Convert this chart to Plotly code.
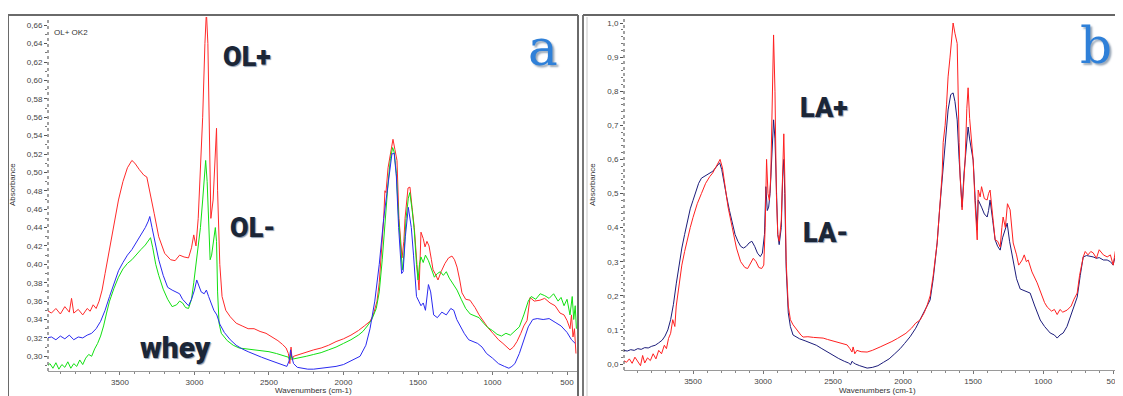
import plotly.graph_objects as go

OFF = 8                      # page body margin in the browser
W, H = 1123 - OFF, 396 - OFF

# ---------------- data (panel a) ----------------
a_red_wn = [3990, 3960, 3930, 3900, 3870, 3840, 3825, 3810, 3780, 3750, 3720, 3700, 3680, 3660, 3640, 3620, 3600,
            3570, 3540, 3510, 3480, 3450, 3420, 3400, 3370, 3340, 3320, 3300, 3270, 3240, 3200, 3160, 3130, 3100,
            3070, 3040, 3020, 3005, 2990, 2975, 2960, 2945, 2930, 2920, 2910, 2900, 2890, 2875, 2860, 2852, 2845,
            2830, 2815, 2790, 2760, 2720, 2680, 2640, 2600, 2560, 2520, 2480, 2440, 2410, 2385, 2370, 2360, 2352,
            2345, 2335, 2300, 2250, 2200, 2150, 2100, 2050, 2000, 1950, 1900, 1860, 1822, 1800, 1775, 1760, 1742,
            1730, 1722, 1715, 1701, 1685, 1668, 1655, 1641, 1628, 1615, 1607, 1595, 1587, 1567, 1554, 1540, 1525,
            1507, 1493, 1485, 1480, 1465, 1453, 1440, 1426, 1410, 1399, 1385, 1366, 1345, 1319, 1295, 1272, 1255,
            1238, 1220, 1205, 1180, 1151, 1130, 1117, 1090, 1064, 1030, 997, 960, 930, 900, 883, 860, 836, 810, 790,
            768, 755, 748, 720, 681, 650, 614, 580, 547, 520, 500, 480, 470, 460, 450, 440]
a_red_abs = [0.350, 0.347, 0.352, 0.346, 0.354, 0.348, 0.363, 0.347, 0.351, 0.345, 0.352, 0.349, 0.356, 0.352, 0.360,
             0.372, 0.390, 0.418, 0.445, 0.470, 0.490, 0.505, 0.513, 0.510, 0.503, 0.497, 0.495, 0.480, 0.455, 0.430,
             0.412, 0.405, 0.404, 0.410, 0.408, 0.407, 0.418, 0.432, 0.420, 0.450, 0.500, 0.560, 0.640, 0.675, 0.640,
             0.520, 0.450, 0.470, 0.530, 0.548, 0.480, 0.400, 0.365, 0.350, 0.343, 0.336, 0.333, 0.330, 0.330, 0.327,
             0.325, 0.321, 0.317, 0.313, 0.309, 0.303, 0.292, 0.310, 0.296, 0.300, 0.302, 0.305, 0.307, 0.309, 0.312,
             0.316, 0.319, 0.323, 0.328, 0.333, 0.338, 0.345, 0.360, 0.380, 0.420, 0.450, 0.480, 0.478, 0.505, 0.520,
             0.536, 0.525, 0.513, 0.450, 0.415, 0.407, 0.425, 0.450, 0.483, 0.484, 0.462, 0.440, 0.400, 0.372, 0.410,
             0.435, 0.428, 0.419, 0.425, 0.420, 0.405, 0.394, 0.390, 0.383, 0.392, 0.401, 0.407, 0.409, 0.405, 0.397,
             0.383, 0.369, 0.362, 0.361, 0.356, 0.353, 0.345, 0.339, 0.331, 0.325, 0.318, 0.314, 0.309, 0.307, 0.310,
             0.316, 0.325, 0.333, 0.339, 0.355, 0.364, 0.360, 0.361, 0.363, 0.358, 0.355, 0.347, 0.345, 0.339, 0.330,
             0.345, 0.321, 0.330, 0.303]

a_blue_wn = [3990, 3960, 3930, 3900, 3870, 3840, 3810, 3780, 3750, 3720, 3690, 3660, 3630, 3600, 3570, 3540, 3510,
             3480, 3450, 3420, 3390, 3360, 3330, 3310, 3300, 3285, 3260, 3240, 3210, 3180, 3150, 3120, 3100, 3080,
             3060, 3040, 3020, 3000, 2985, 2970, 2955, 2935, 2920, 2905, 2890, 2870, 2850, 2830, 2800, 2760, 2720,
             2680, 2640, 2600, 2550, 2500, 2450, 2400, 2380, 2365, 2355, 2345, 2335, 2310, 2280, 2240, 2200, 2150,
             2100, 2050, 2000, 1960, 1930, 1889, 1850, 1822, 1790, 1760, 1730, 1700, 1675, 1660, 1645, 1630, 1610,
             1600, 1585, 1565, 1545, 1530, 1510, 1495, 1480, 1465, 1450, 1430, 1415, 1395, 1370, 1340, 1310, 1280,
             1260, 1240, 1215, 1190, 1160, 1130, 1100, 1070, 1040, 1000, 960, 920, 890, 870, 850, 820, 790, 760,
             730, 700, 660, 620, 580, 540, 500, 470, 445]
a_blue_abs = [0.320, 0.321, 0.318, 0.322, 0.319, 0.323, 0.318, 0.321, 0.320, 0.323, 0.325, 0.330, 0.338, 0.350,
              0.365, 0.380, 0.393, 0.402, 0.410, 0.416, 0.424, 0.432, 0.440, 0.447, 0.452, 0.440, 0.420, 0.405,
              0.388, 0.375, 0.372, 0.370, 0.368, 0.362, 0.358, 0.355, 0.362, 0.372, 0.383, 0.377, 0.370, 0.368,
              0.372, 0.365, 0.358, 0.350, 0.345, 0.335, 0.326, 0.318, 0.312, 0.308, 0.305, 0.302, 0.299, 0.296,
              0.293, 0.290, 0.289, 0.295, 0.307, 0.298, 0.292, 0.288, 0.287, 0.286, 0.286, 0.287, 0.288, 0.289,
              0.291, 0.294, 0.297, 0.300, 0.312, 0.330, 0.360, 0.400, 0.450, 0.490, 0.520, 0.521, 0.495, 0.440,
              0.390, 0.392, 0.430, 0.462, 0.440, 0.410, 0.365, 0.360, 0.355, 0.358, 0.350, 0.378, 0.370, 0.345,
              0.342, 0.348, 0.345, 0.352, 0.350, 0.340, 0.332, 0.325, 0.318, 0.316, 0.314, 0.310, 0.303, 0.298,
              0.292, 0.289, 0.287, 0.289, 0.292, 0.303, 0.318, 0.332, 0.340, 0.341, 0.340, 0.341, 0.337, 0.333,
              0.326, 0.318, 0.314]

a_green_wn = [3990, 3970, 3950, 3930, 3910, 3890, 3870, 3850, 3830, 3810, 3790, 3770, 3750, 3730, 3710, 3690, 3670,
              3650, 3630, 3610, 3590, 3570, 3540, 3510, 3480, 3450, 3420, 3390, 3360, 3330, 3310, 3295, 3280, 3260,
              3240, 3210, 3180, 3150, 3120, 3100, 3080, 3060, 3040, 3020, 3005, 2990, 2975, 2960, 2945, 2935, 2925,
              2915, 2905, 2895, 2885, 2870, 2860, 2852, 2845, 2835, 2820, 2780, 2740, 2700, 2650, 2600, 2550, 2500,
              2450, 2400, 2370, 2360, 2350, 2340, 2300, 2250, 2200, 2150, 2100, 2050, 2000, 1950, 1900, 1870, 1840,
              1810, 1780, 1760, 1740, 1720, 1700, 1685, 1670, 1660, 1645, 1630, 1615, 1605, 1595, 1580, 1565, 1555,
              1540, 1525, 1510, 1500, 1490, 1480, 1465, 1450, 1430, 1410, 1390, 1370, 1350, 1330, 1310, 1290, 1260,
              1238, 1210, 1180, 1150, 1120, 1090, 1060, 1030, 1000, 970, 940, 910, 880, 850, 820, 790, 760, 740, 710,
              680, 650, 620, 590, 560, 540, 520, 500, 480, 465, 455, 445, 437]
a_green_abs = [0.289, 0.292, 0.287, 0.293, 0.286, 0.291, 0.288, 0.294, 0.287, 0.292, 0.289, 0.296, 0.291, 0.298,
               0.302, 0.300, 0.308, 0.314, 0.322, 0.333, 0.347, 0.360, 0.374, 0.386, 0.395, 0.401, 0.405, 0.411,
               0.416, 0.421, 0.426, 0.429, 0.418, 0.400, 0.388, 0.373, 0.362, 0.354, 0.356, 0.360, 0.358, 0.353,
               0.352, 0.362, 0.380, 0.400, 0.425, 0.440, 0.470, 0.490, 0.513, 0.490, 0.440, 0.405, 0.410, 0.430,
               0.440, 0.425, 0.370, 0.336, 0.325, 0.317, 0.312, 0.309, 0.308, 0.307, 0.306, 0.305, 0.303, 0.301,
               0.299, 0.296, 0.301, 0.297, 0.298, 0.300, 0.302, 0.304, 0.307, 0.310, 0.314, 0.318, 0.323, 0.327,
               0.333, 0.340, 0.352, 0.370, 0.405, 0.450, 0.490, 0.515, 0.527, 0.522, 0.499, 0.450, 0.410, 0.394,
               0.410, 0.450, 0.472, 0.478, 0.460, 0.437, 0.400, 0.383, 0.400, 0.408, 0.402, 0.410, 0.404, 0.395,
               0.386, 0.390, 0.392, 0.388, 0.392, 0.385, 0.378, 0.372, 0.362, 0.352, 0.346, 0.344, 0.342, 0.336,
               0.331, 0.328, 0.324, 0.322, 0.325, 0.323, 0.327, 0.332, 0.345, 0.360, 0.365, 0.362, 0.368, 0.366,
               0.363, 0.368, 0.360, 0.364, 0.355, 0.362, 0.345, 0.365, 0.340, 0.355, 0.330]

# ---------------- data (panel b) ----------------
b_red_wn = [3995, 3975, 3955, 3935, 3915, 3895, 3875, 3860, 3845, 3825, 3805, 3785, 3765, 3745, 3725, 3705, 3690,
            3675, 3660, 3645, 3630, 3620, 3600, 3580, 3560, 3540, 3520, 3500, 3470, 3440, 3410, 3380, 3360, 3340,
            3320, 3307, 3290, 3270, 3250, 3220, 3190, 3160, 3130, 3110, 3090, 3070, 3050, 3030, 3010, 2995, 2985,
            2975, 2965, 2955, 2945, 2935, 2925, 2915, 2905, 2895, 2885, 2870, 2860, 2852, 2845, 2835, 2820, 2805,
            2786, 2760, 2730, 2714, 2680, 2640, 2600, 2571, 2540, 2500, 2460, 2420, 2400, 2380, 2365, 2357, 2345,
            2330, 2300, 2257, 2220, 2164, 2120, 2080, 2040, 2021, 1980, 1940, 1910, 1879, 1850, 1830, 1807, 1785,
            1765, 1757, 1740, 1721, 1714, 1700, 1690, 1679, 1665, 1650, 1643, 1630, 1614, 1600, 1593, 1579, 1565,
            1557, 1545, 1536, 1525, 1510, 1500, 1485, 1471, 1464, 1450, 1440, 1420, 1400, 1390, 1379, 1360, 1343,
            1325, 1307, 1295, 1286, 1270, 1255, 1236, 1214, 1190, 1175, 1164, 1150, 1135, 1120, 1107, 1080, 1043,
            1010, 990, 971, 940, 920, 900, 880, 860, 829, 800, 780, 757, 740, 714, 700, 680, 660, 643, 620, 600,
            570, 543, 520, 500, 485, 471, 455, 445, 436]
b_red_abs = [0.010, 0.005, 0.015, 0.002, 0.020, 0.008, -0.005, 0.025, 0.003, 0.018, 0.010, 0.030, 0.015, 0.040,
             0.030, 0.055, 0.045, 0.075, 0.090, 0.130, 0.110, 0.170, 0.230, 0.290, 0.330, 0.370, 0.400, 0.430,
             0.470, 0.500, 0.530, 0.550, 0.560, 0.575, 0.590, 0.600, 0.575, 0.520, 0.460, 0.400, 0.340, 0.300,
             0.283, 0.280, 0.295, 0.310, 0.300, 0.283, 0.280, 0.290, 0.400, 0.600, 0.500, 0.480, 0.550, 0.750,
             0.965, 0.800, 0.500, 0.380, 0.360, 0.420, 0.620, 0.675, 0.550, 0.300, 0.170, 0.130, 0.115, 0.100,
             0.085, 0.079, 0.080, 0.078, 0.077, 0.076, 0.072, 0.068, 0.063, 0.058, 0.056, 0.045, 0.035, 0.050,
             0.030, 0.040, 0.036, 0.035, 0.040, 0.050, 0.058, 0.066, 0.075, 0.079, 0.090, 0.105, 0.120, 0.129,
             0.150, 0.170, 0.200, 0.260, 0.330, 0.355, 0.450, 0.560, 0.650, 0.700, 0.760, 0.842, 0.900, 0.990,
             1.000, 0.970, 0.940, 0.650, 0.548, 0.452, 0.560, 0.600, 0.750, 0.810, 0.720, 0.650, 0.598, 0.460,
             0.364, 0.510, 0.490, 0.520, 0.485, 0.481, 0.500, 0.510, 0.430, 0.364, 0.360, 0.343, 0.400, 0.431,
             0.400, 0.470, 0.452, 0.355, 0.320, 0.290, 0.296, 0.305, 0.320, 0.300, 0.305, 0.270, 0.238, 0.200,
             0.180, 0.167, 0.155, 0.160, 0.145, 0.160, 0.152, 0.158, 0.170, 0.190, 0.208, 0.260, 0.314, 0.330,
             0.320, 0.330, 0.326, 0.310, 0.335, 0.320, 0.314, 0.320, 0.290, 0.330, 0.296, 0.250, 0.300, 0.238]

b_navy_wn = [3995, 3970, 3945, 3920, 3895, 3870, 3845, 3820, 3795, 3770, 3745, 3720, 3700, 3680, 3660, 3640, 3620,
             3600, 3580, 3560, 3540, 3520, 3500, 3480, 3460, 3440, 3420, 3400, 3380, 3360, 3340, 3320, 3310, 3295,
             3280, 3260, 3240, 3220, 3200, 3180, 3160, 3140, 3120, 3100, 3080, 3060, 3040, 3020, 3005, 2990, 2980,
             2970, 2960, 2950, 2940, 2925, 2915, 2905, 2895, 2885, 2870, 2860, 2852, 2845, 2835, 2820, 2805, 2786,
             2740, 2700, 2660, 2620, 2580, 2540, 2500, 2460, 2420, 2390, 2375, 2365, 2355, 2340, 2310, 2280, 2257,
             2220, 2180, 2140, 2100, 2060, 2021, 1990, 1950, 1910, 1879, 1850, 1830, 1807, 1785, 1757, 1740, 1721,
             1714, 1700, 1679, 1660, 1643, 1630, 1614, 1600, 1593, 1579, 1565, 1557, 1545, 1536, 1525, 1510, 1500,
             1485, 1471, 1464, 1450, 1440, 1420, 1400, 1390, 1379, 1360, 1343, 1325, 1307, 1290, 1270, 1257, 1240,
             1214, 1190, 1164, 1130, 1093, 1060, 1021, 990, 950, 920, 900, 880, 857, 830, 807, 780, 757, 735, 714,
             690, 660, 643, 620, 600, 570, 543, 520, 500, 490, 471, 455, 440]
b_navy_abs = [0.040, 0.038, 0.042, 0.040, 0.045, 0.043, 0.048, 0.047, 0.052, 0.055, 0.062, 0.070, 0.082, 0.100,
              0.130, 0.175, 0.235, 0.290, 0.340, 0.380, 0.420, 0.455, 0.480, 0.505, 0.530, 0.545, 0.550, 0.555,
              0.560, 0.565, 0.575, 0.585, 0.590, 0.570, 0.530, 0.490, 0.450, 0.410, 0.380, 0.360, 0.345, 0.340,
              0.345, 0.355, 0.360, 0.345, 0.325, 0.315, 0.325, 0.380, 0.520, 0.450, 0.460, 0.500, 0.600, 0.716,
              0.660, 0.500, 0.380, 0.350, 0.400, 0.550, 0.600, 0.500, 0.280, 0.150, 0.110, 0.085, 0.074, 0.068,
              0.062, 0.055, 0.045, 0.035, 0.025, 0.016, 0.008, 0.003, -0.002, 0.008, 0.004, 0.000, -0.005, -0.010,
              -0.012, -0.010, -0.005, 0.005, 0.015, 0.030, 0.045, 0.060, 0.080, 0.105, 0.130, 0.150, 0.170, 0.188,
              0.250, 0.355, 0.450, 0.540, 0.578, 0.650, 0.745, 0.790, 0.795, 0.770, 0.716, 0.600, 0.548, 0.460,
              0.560, 0.598, 0.660, 0.695, 0.660, 0.620, 0.598, 0.480, 0.393, 0.481, 0.470, 0.460, 0.440, 0.431,
              0.450, 0.481, 0.420, 0.364, 0.345, 0.334, 0.370, 0.400, 0.413, 0.360, 0.296, 0.250, 0.220, 0.215,
              0.208, 0.170, 0.129, 0.110, 0.091, 0.085, 0.076, 0.085, 0.091, 0.110, 0.138, 0.170, 0.196, 0.260,
              0.314, 0.318, 0.316, 0.314, 0.310, 0.312, 0.305, 0.305, 0.300, 0.290, 0.310, 0.284, 0.270, 0.275]

x_ticks = [3500, 3000, 2500, 2000, 1500, 1000, 500]
a_y_ticks = [0.30, 0.32, 0.34, 0.36, 0.38, 0.40, 0.42, 0.44, 0.46, 0.48, 0.50, 0.52, 0.54, 0.56, 0.58,
             0.60, 0.62, 0.64, 0.66]
b_y_ticks = [0.0, 0.1, 0.2, 0.3, 0.4, 0.5, 0.6, 0.7, 0.8, 0.9, 1.0]


def fx(px):
    """screen pixel x -> paper fraction (figure is drawn offset by the page margin)"""
    return (px - OFF) / W


def fy(py):
    return 1 - (py - OFF) / H


fig = go.Figure()
lw = 1.0
fig.add_trace(go.Scatter(x=a_red_wn, y=a_red_abs, mode="lines", line=dict(color="#ff2a2a", width=lw),
                         xaxis="x", yaxis="y", showlegend=False))
fig.add_trace(go.Scatter(x=a_green_wn, y=a_green_abs, mode="lines", line=dict(color="#12e012", width=lw),
                         xaxis="x", yaxis="y", showlegend=False))
fig.add_trace(go.Scatter(x=a_blue_wn, y=a_blue_abs, mode="lines", line=dict(color="#2a2af0", width=lw),
                         xaxis="x", yaxis="y", showlegend=False))
fig.add_trace(go.Scatter(x=b_navy_wn, y=b_navy_abs, mode="lines", line=dict(color="#1c1c7a", width=lw),
                         xaxis="x2", yaxis="y2", showlegend=False))
fig.add_trace(go.Scatter(x=b_red_wn, y=b_red_abs, mode="lines", line=dict(color="#ff2020", width=lw),
                         xaxis="x2", yaxis="y2", showlegend=False))

tickfont = dict(family="Liberation Sans, Arial, sans-serif", size=8, color="#444")


def fmt(v, nd):
    return f"{v:.{nd}f}".replace(".", ",")


xcommon = dict(autorange=False, tickmode="array", tickvals=x_ticks, ticktext=[str(t) for t in x_ticks],
               ticks="outside", ticklen=3, tickcolor="#777", showline=True, linecolor="#9a9a9a", linewidth=1,
               showgrid=False, zeroline=False, tickfont=tickfont,
               minor=dict(dtick=100, ticks="outside", ticklen=2, tickcolor="#888", showgrid=False))

fig.update_layout(
    width=W, height=H, margin=dict(l=0, r=0, t=0, b=0),
    paper_bgcolor="white", plot_bgcolor="white",
    xaxis=dict(domain=[fx(48), fx(577)], range=[3983, 433], anchor="y", **xcommon),
    yaxis=dict(domain=[fy(371), fy(17)], range=[0.284, 0.669], anchor="x", tickmode="array",
               tickvals=a_y_ticks, ticktext=[fmt(v, 2) for v in a_y_ticks], ticks="outside", ticklen=3,
               tickcolor="#555", showline=False, showgrid=False, zeroline=False, tickfont=tickfont,
               minor=dict(dtick=0.01, ticks="outside", ticklen=2, tickcolor="#777", showgrid=False)),
    xaxis2=dict(domain=[fx(624), 1.0], range=[3993, 430], anchor="y2", **xcommon),
    yaxis2=dict(domain=[fy(370), fy(17)], range=[-0.0176, 1.0176], anchor="x2", tickmode="array",
                tickvals=b_y_ticks, ticktext=[fmt(v, 1) for v in b_y_ticks], ticks="outside", ticklen=3,
                tickcolor="#555", showline=False, showgrid=False, zeroline=False, tickfont=tickfont,
                minor=dict(dtick=0.02, ticks="outside", ticklen=2, tickcolor="#777", showgrid=False)),
)

shapes = []
# dotted y-axis lines
shapes.append(dict(type="line", xref="paper", yref="paper", x0=fx(48), x1=fx(48), y0=fy(371), y1=fy(17),
                   line=dict(color="#444", width=1, dash="dot")))
shapes.append(dict(type="line", xref="paper", yref="paper", x0=fx(624), x1=fx(624), y0=fy(370), y1=fy(17),
                   line=dict(color="#444", width=1, dash="dot")))
# panel frames
frame = dict(color="#6a6a6a", width=2)
shapes.append(dict(type="line", xref="paper", yref="paper", x0=fx(8), x1=fx(8), y0=0, y1=fy(15), line=frame))
shapes.append(dict(type="line", xref="paper", yref="paper", x0=fx(8), x1=fx(578), y0=fy(15), y1=fy(15), line=frame))
shapes.append(dict(type="line", xref="paper", yref="paper", x0=fx(578), x1=fx(578), y0=0, y1=fy(15), line=frame))
shapes.append(dict(type="line", xref="paper", yref="paper", x0=fx(583), x1=fx(583), y0=0, y1=fy(15),
                   line=dict(color="#777", width=2)))
shapes.append(dict(type="line", xref="paper", yref="paper", x0=fx(587), x1=fx(587), y0=0, y1=fy(17),
                   line=dict(color="#c8c8c8", width=1)))
shapes.append(dict(type="line", xref="paper", yref="paper", x0=fx(583), x1=1.0, y0=fy(15), y1=fy(15),
                   line=dict(color="#666", width=2)))
fig.update_layout(shapes=shapes)

annots = []
small = dict(family="Liberation Sans, Arial, sans-serif", size=8, color="#333")
annots.append(dict(text="OL+ OK2", x=fx(52), y=fy(33), xanchor="left", yanchor="middle", font=small))
annots.append(dict(text="Absorbance", x=fx(13), y=fy(185), textangle=-90, xanchor="center", yanchor="middle",
                   font=small))
annots.append(dict(text="Absorbance", x=fx(593), y=fy(185), textangle=-90, xanchor="center", yanchor="middle",
                   font=small))
annots.append(dict(text="Wavenumbers (cm-1)", x=fx(313), y=fy(390), xanchor="center", yanchor="middle", font=small))
annots.append(dict(text="Wavenumbers (cm-1)", x=fx(877), y=fy(390), xanchor="center", yanchor="middle", font=small))

big = dict(family="Roboto, DejaVu Sans, sans-serif", size=27, color="#1b2637", weight=900,
           shadow="1px 1px 1px #8a9ab0")
annots.append(dict(text="OL+", x=fx(247), y=fy(57), xanchor="center", yanchor="middle", font=big))
annots.append(dict(text="OL-", x=fx(252), y=fy(228), xanchor="center", yanchor="middle", font=big))
annots.append(dict(text="LA+", x=fx(824), y=fy(108), xanchor="center", yanchor="middle", font=big))
annots.append(dict(text="LA-", x=fx(825), y=fy(233), xanchor="center", yanchor="middle", font=big))
annots.append(dict(text="whey", x=fx(175), y=fy(347), xanchor="center", yanchor="middle",
                   font=dict(big, size=30)))
letter = dict(family="DejaVu Serif, serif", size=50, color="#2f80d8", shadow="2px 2px 2px #9aa8b8")
annots.append(dict(text="a", x=fx(543), y=fy(48), xanchor="center", yanchor="middle", font=letter))
annots.append(dict(text="b", x=fx(1096), y=fy(46), xanchor="center", yanchor="middle", font=letter))
for a in annots:
    a.update(xref="paper", yref="paper", showarrow=False)
fig.update_layout(annotations=annots)

fig.write_html("out.html")
